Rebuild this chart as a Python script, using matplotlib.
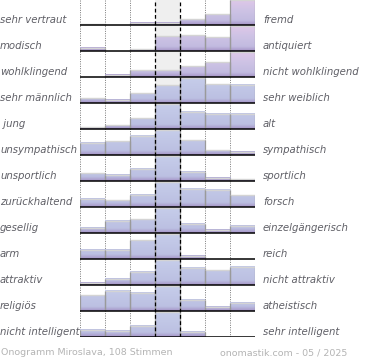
import numpy as np
import matplotlib
matplotlib.use("Agg")
import matplotlib.pyplot as plt
from matplotlib.colors import LinearSegmentedColormap

# ---- data ----
left_labels = ["sehr vertraut", "modisch", "wohlklingend", "sehr männlich", " jung",
               "unsympathisch", "unsportlich", "zurückhaltend", "gesellig", "arm",
               "attraktiv", "religiös", "nicht intelligent"]
right_labels = ["fremd", "antiquiert", "nicht wohlklingend", "sehr weiblich", "alt",
                "sympathisch", "sportlich", "forsch", "einzelgängerisch", "reich",
                "nicht attraktiv", "atheistisch", "sehr intelligent"]
vertraut = [4, 0, 10, 10, 24, 44, 100]
modisch = [13, 0, 7, 60, 65, 55, 100]
wohlklingend = [0, 9, 27, 27, 43, 59, 100]
maennlich = [19, 13, 39, 73, 100, 77, 75]
jung = [7, 15, 43, 100, 71, 61, 61]
unsympathisch = [49, 55, 79, 100, 59, 19, 13]
unsportlich = [31, 25, 49, 100, 37, 13, 8]
zurueckhaltend = [33, 27, 49, 100, 75, 71, 48]
gesellig = [21, 49, 55, 100, 37, 13, 29]
arm = [37, 37, 77, 100, 13, 0, 0]
attraktiv = [9, 25, 53, 100, 71, 59, 75]
religioes = [65, 83, 75, 100, 45, 17, 33]
intelligent = [29, 25, 46, 100, 21, 0, 0]
rows = [vertraut, modisch, wohlklingend, maennlich, jung, unsympathisch, unsportlich,
        zurueckhaltend, gesellig, arm, attraktiv, religioes, intelligent]
pink_rows = [0, 1, 2]
footer_left = "Onogramm Miroslava, 108 Stimmen"
footer_right = "onomastik.com - 05 / 2025"

# ---- layout ----
W, H = 370, 360
fig = plt.figure(figsize=(W / 100, H / 100), dpi=100)
x0, x1 = 80, 255
ybot = 337
ax = fig.add_axes([x0 / W, (H - ybot) / H, (x1 - x0) / W, ybot / H])
n = len(rows)
row_px = 26.0
top = (n - 1) + 25.0 / row_px
ax.set_xlim(0, 7)
ax.set_ylim(0, top)
ax.axis("off")

cmap_blue = LinearSegmentedColormap.from_list(
    "b", [(0, "#a593c6"), (0.18, "#bcc0e2"), (1, "#c6cdea")])
cmap_pink = LinearSegmentedColormap.from_list(
    "p", [(0, "#a593c6"), (0.18, "#c2bbe0"), (0.6, "#cec3e5"), (1, "#dec7e8")])

maxh = 24.6 / row_px

# middle column background
ax.axvspan(3, 4, color="#efefef", zorder=0, lw=0)
# dotted grid
for xv in [0, 1, 2, 5, 6, 7]:
    ax.plot([xv, xv], [0, top], color="#777777", lw=0.7, ls=(0, (1, 1.4)), zorder=1)

for i, vals in enumerate(rows):
    b = n - 1 - i
    m = max(vals)
    cmap = cmap_pink if i in pink_rows else cmap_blue
    for j, v in enumerate(vals):
        h = v / m * maxh
        if h <= 0:
            continue
        frac = h / maxh
        grad = np.linspace(0, frac, 60).reshape(-1, 1)
        ax.imshow(grad, cmap=cmap, vmin=0, vmax=1, origin="lower",
                  extent=(j, j + 1, b, b + h), aspect="auto", zorder=2,
                  interpolation="bilinear")
        ax.plot([j, j + 1], [b + h, b + h], color="#d4d4d4", lw=1.0, zorder=3,
                solid_capstyle="butt")
        for xe in (j, j + 1):
            ax.plot([xe, xe], [b, b + h], color="#9a9a9a", lw=0.9, zorder=3,
                    solid_capstyle="butt")
    ax.plot([0, 7.03], [b, b], color="black", lw=1.1, zorder=5, solid_capstyle="butt")
    ty = b + 5.0 / row_px
    ax.text(-80 / 25, ty, left_labels[i], ha="left", va="center", style="italic",
            fontsize=7.3, color="#5f5f66", clip_on=False)
    ax.text(263 / 25 - 80 / 25, ty, right_labels[i], ha="left", va="center",
            style="italic", fontsize=7.3, color="#5f5f66", clip_on=False)

for xv in [3, 4]:
    ax.plot([xv, xv], [0, top], color="black", lw=0.9, ls=(0, (3, 2)), zorder=4)

fig.text(1 / W, 1 - 352.5 / H, footer_left, ha="left", va="center",
         fontsize=6.8, color="#b4b4b4")
fig.text(347 / W, 1 - 352.5 / H, footer_right, ha="right", va="center",
         fontsize=6.8, color="#b4b4b4")

fig.savefig("out.png", dpi=100)
